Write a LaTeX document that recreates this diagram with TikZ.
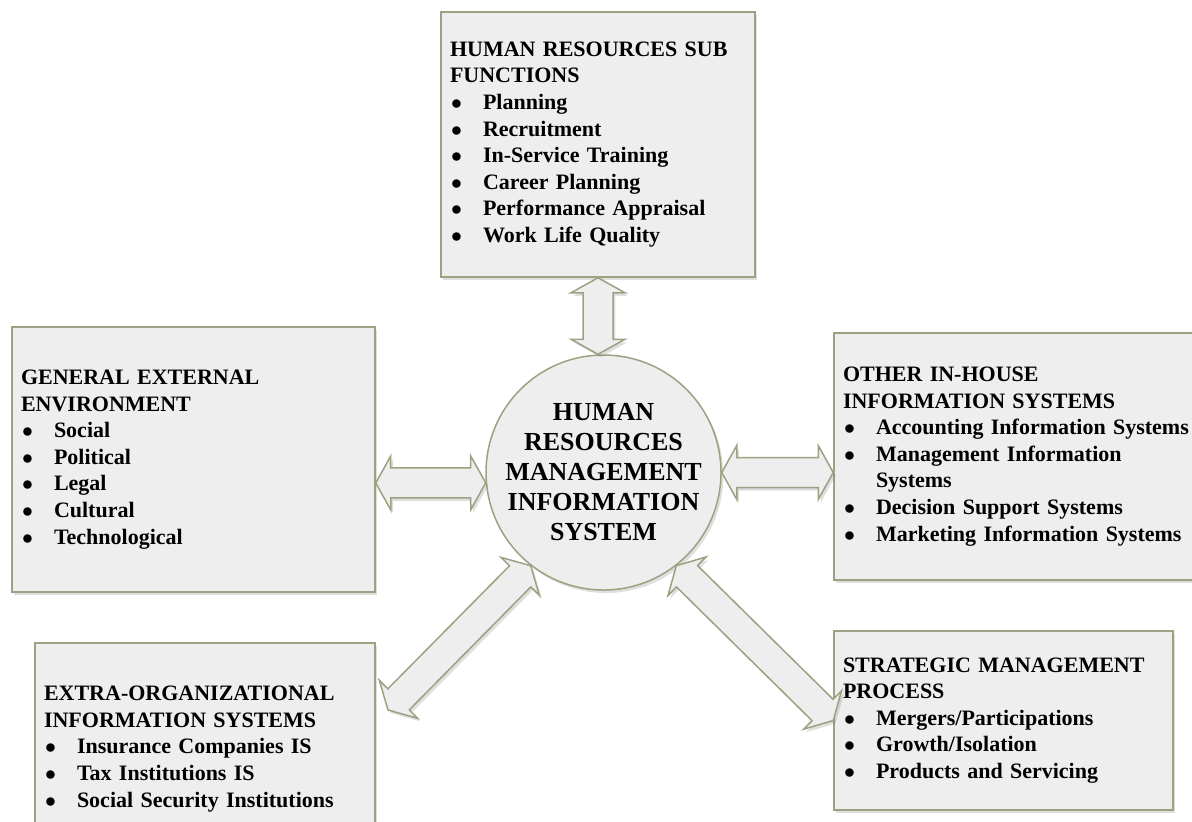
\documentclass[tikz,border=0pt]{standalone}
\usepackage{fontspec}
\setmainfont{Liberation Serif}
\usetikzlibrary{calc,shadows}
\definecolor{edgeolive}{RGB}{158,160,130}
\definecolor{boxgray}{RGB}{238,238,238}
\newcommand{\blt}{\makebox[16.5pt][l]{\hspace{0.5pt}$\bullet$}}
\newcommand{\twoway}[2]{%
 \coordinate (h1) at ($(#1)!7.5pt!(#2)$);
 \coordinate (h2) at ($(#2)!7.5pt!(#1)$);
 \draw[flow] (#1) -- ($(h1)!13.5pt!90:(#2)$) -- ($(h1)!7.5pt!90:(#2)$)
   -- ($(h2)!7.5pt!-90:(#1)$) -- ($(h2)!13.5pt!-90:(#1)$) -- (#2)
   -- ($(h2)!13.5pt!90:(#1)$) -- ($(h2)!7.5pt!90:(#1)$)
   -- ($(h1)!7.5pt!-90:(#2)$) -- ($(h1)!13.5pt!-90:(#2)$) -- cycle;}

\begin{document}
\begin{tikzpicture}[x=0.5pt,y=-0.5pt]
\useasboundingbox (0,0) rectangle (1192,821);

\tikzstyle{shade}=[draw=edgeolive, line width=0.75pt, fill=boxgray,
    drop shadow={shadow xshift=1.2pt, shadow yshift=-1.5pt, opacity=0.25}]
\tikzstyle{panel}=[rectangle, shade, align=left, inner xsep=4.5pt, inner ysep=0pt,
    font=\fontsize{11}{13.3}\selectfont\bfseries]
\tikzstyle{flow}=[shade, line join=miter]

\node[panel, minimum width = 157pt, minimum height = 132.5pt,
    text width = 148pt] (hrsub) at (598,144.5) {HUMAN RESOURCES SUB\\FUNCTIONS\\
    \blt Planning\\\blt Recruitment\\\blt In-Service Training\\
    \blt Career Planning\\\blt Performance Appraisal\\\blt Work Life Quality};
\node[panel, minimum width = 181.5pt, minimum height = 132.5pt,
    text width = 172.5pt] (genext) at (193.5,459.5) {GENERAL EXTERNAL\\ENVIRONMENT\\
    \blt Social\\\blt Political\\\blt Legal\\\blt Cultural\\\blt Technological};
\node[panel, minimum width = 183pt, minimum height = 123.5pt,
    text width = 174pt] (inhouse) at (1017,456.5) {OTHER IN-HOUSE\\INFORMATION SYSTEMS\\
    \blt Accounting Information Systems\\\blt Management Information\\
    \hspace*{16.5pt}Systems\\\blt Decision Support Systems\\
    \blt Marketing Information Systems};
\node[panel, minimum width = 170pt, minimum height = 106pt,
    text width = 161pt] (extorg) at (205,749) {EXTRA-ORGANIZATIONAL\\INFORMATION SYSTEMS\\
    \blt Insurance Companies IS\\\blt Tax Institutions IS\\
    \blt Social Security Institutions};
\node[panel, minimum width = 169.5pt, minimum height = 89.5pt,
    text width = 160.5pt] (strat) at (1003.5,720.5) {STRATEGIC MANAGEMENT\\PROCESS\\
    \blt Mergers/Participations\\\blt Growth/Isolation\\\blt Products and Servicing};

\node[circle, shade, minimum size = 117.5pt, inner sep=0pt,
    label={[align=center, font=\fontsize{13}{15}\selectfont\bfseries]center:
    HUMAN\\RESOURCES\\MANAGEMENT\\INFORMATION\\SYSTEM}] (hrmis) at (603.5,472.5) {};

\coordinate (t1) at (hrsub.south |- hrmis.north);
\coordinate (e1) at ($(genext.east)+(0,-11.75pt)$);
\coordinate (i1) at ($(inhouse.west)+(0,-8pt)$);
\coordinate (x1) at (388,710);

\twoway{hrsub.south}{t1}
\twoway{e1}{hrmis.185}
\twoway{hrmis.0}{i1}
\twoway{x1}{hrmis.232}
\twoway{hrmis.308}{strat.west}
\end{tikzpicture}
\end{document}
